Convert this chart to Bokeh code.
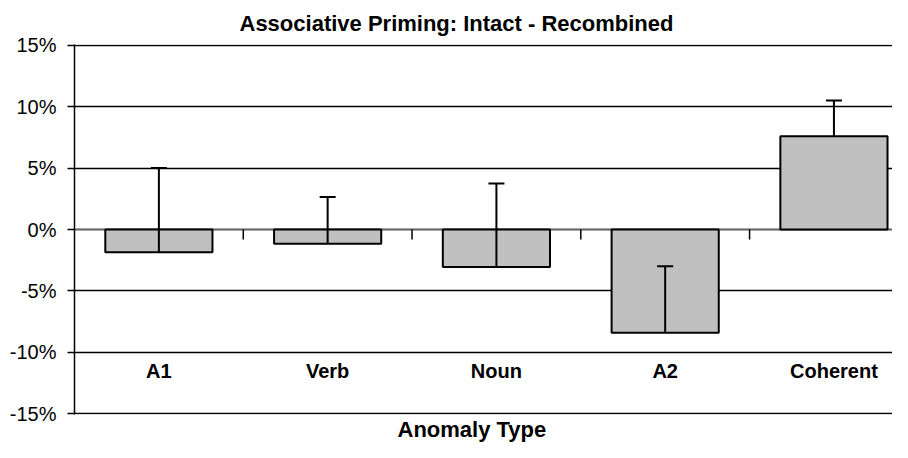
from bokeh.plotting import figure
from bokeh.models import (ColumnDataSource, Range1d, PrintfTickFormatter,
                          Whisker, TeeHead, Span, Title)
from bokeh.embed import file_html
from bokeh.resources import INLINE
from bokeh.core.properties import value

# ---- data ----
categories = ["A1", "Verb", "Noun", "A2", "Coherent"]
means = [-1.85, -1.15, -3.05, -8.4, 7.6]          # percent
errors = [6.85, 3.8, 6.8, 5.4, 2.9]               # percent (upper error only)
y_ticks = [-15, -10, -5, 0, 5, 10, 15]
title_text = "Associative Priming: Intact - Recombined"
x_title = "Anomaly Type"
label_level = -11.5

FONT = "Liberation Sans"
n = len(categories)
xs = [i + 0.5 for i in range(n)]
bounds = [i for i in range(1, n)]

src = ColumnDataSource(dict(
    x=xs,
    top=means,
    upper=[m + e for m, e in zip(means, errors)],
    lower=means,
    label=categories,
    label_y=[label_level] * n,
))

FRAME_H = 368
p = figure(width=892, height=442,
           x_range=Range1d(0, 4.847), y_range=Range1d(-15.06, 15.06),
           output_backend="svg", toolbar_location=None,
           min_border_left=74, min_border_right=0,
           min_border_top=43, min_border_bottom=28)

p.outline_line_color = None
p.background_fill_color = "white"
p.border_fill_color = "white"
p.xaxis.visible = False
p.xgrid.visible = False

p.yaxis.ticker = y_ticks
p.yaxis.formatter = PrintfTickFormatter(format="%d%%")
p.yaxis.major_label_text_font = FONT
p.yaxis.major_label_text_font_size = "20px"
p.yaxis.major_label_text_color = "black"
p.yaxis.axis_line_color = "black"
p.yaxis.axis_line_width = 1.5
p.yaxis.major_tick_line_color = "black"
p.yaxis.major_tick_line_width = 1.5
p.yaxis.major_tick_out = 7
p.yaxis.major_tick_in = 0
p.yaxis.minor_tick_out = 0
p.yaxis.minor_tick_in = 0
p.yaxis.major_label_standoff = 11

p.ygrid.grid_line_color = "black"
p.ygrid.grid_line_width = 1.5
p.ygrid.grid_line_alpha = 1.0

zero = Span(location=0, dimension="width", line_color="#666666",
            line_width=1.5, level="underlay")
p.add_layout(zero)

p.vbar(x="x", top="top", bottom=0, width=0.635, fill_color="#C0C0C0",
       line_color="black", line_width=2, source=src)

# category boundary ticks on the zero line
tick_len = 10 / (FRAME_H / 30.12)
p.segment(x0=bounds, x1=bounds, y0=[0] * len(bounds), y1=[-tick_len] * len(bounds),
          line_color="black", line_width=1.5)

w = Whisker(source=src, base="x", upper="upper", lower="lower",
            line_color="black", line_width=2, level="overlay",
            upper_head=TeeHead(size=16, line_color="black", line_width=2),
            lower_head=None)
p.add_layout(w)

p.text(x="x", y="label_y", text="label", source=src,
       text_font=value(FONT), text_font_style="bold", text_font_size="20px",
       text_align="center", text_baseline="middle", text_color="black")

p.add_layout(Title(text=title_text, align="left", offset=165,
                   text_font=FONT, text_font_style="bold",
                   text_font_size="22px", text_color="black",
                   standoff=17), "above")
p.add_layout(Title(text=x_title, align="left", offset=323,
                   text_font=FONT, text_font_style="bold",
                   text_font_size="22px", text_color="black",
                   standoff=0), "below")

open("out.html", "w").write(file_html(p, INLINE))
